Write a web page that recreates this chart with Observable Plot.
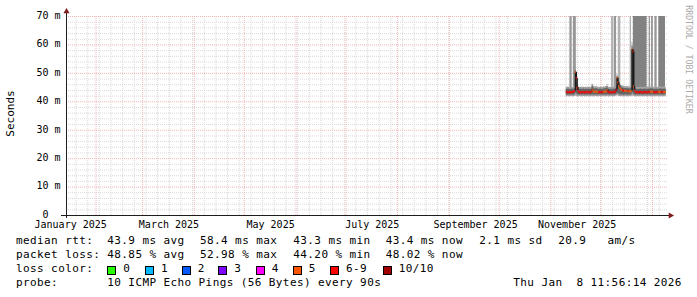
<!DOCTYPE html>
<html><head><meta charset="utf-8">
<script src="https://cdn.jsdelivr.net/npm/d3@7"></script>
<script src="https://cdn.jsdelivr.net/npm/@observablehq/plot@0.6"></script>
<style>
html,body{margin:0;padding:0;background:#fff;width:697px;height:297px;overflow:hidden;position:relative;}
#chart{position:absolute;left:0;top:0;}
.lg{position:absolute;font-family:"DejaVu Sans Mono",monospace;font-size:11px;letter-spacing:0.4px;line-height:14px;white-space:pre;color:#000;}
.box{position:absolute;width:9px;height:9px;box-sizing:border-box;border:1px solid #000;}
</style></head><body>
<div id="chart"></div>
<div id="legend"></div>
<script>
// ---------- data ----------
const yTicks = [0, 10, 20, 30, 40, 50, 60, 70];
const xLabelDates = ["2025-01-16T19:00Z","2025-03-16T19:00Z","2025-05-16T19:00Z","2025-07-16T19:00Z","2025-09-16T19:00Z","2025-11-16T19:00Z"];
const binStartISO = "2025-11-10T06:00Z"; // 12-hour RRD steps
const median = [
43.5,43.4,43.3,43.4,43.5,43.4,43.3,43.4,43.5,43.6,
43.8,50.4,48.3,45.0,43.9,
43.5,43.4,43.3,43.3,43.4,43.5,43.4,43.3,43.4,43.4,43.5,43.3,43.4,43.4,43.3,43.5,
44.2,44.0,
43.6,43.5,43.6,43.7,43.5,43.4,43.3,43.4,43.5,43.4,43.3,43.4,43.6,43.5,43.6,43.7,
44.1,
43.5,43.4,43.3,43.4,43.4,43.3,43.4,43.5,43.4,43.6,
44.2,48.4,46.8,45.6,45.0,44.6,44.3,
44.1,44.0,43.9,43.9,43.8,43.8,43.7,43.8,43.7,43.7,43.6,43.8,
58.4,57.6,45.4,44.0,
43.5,43.4,43.3,43.4,43.3,43.4,43.5,43.4,43.3,43.3,43.4,43.5,43.4,43.3,43.4,43.4,43.5,43.4,
43.6,43.5,43.6,43.5,43.4,43.3,43.4,43.5,43.4,43.3,43.4,43.5,43.6,43.5,43.4,43.5,43.4,43.5,43.4];
const lostPings = [
6,6,6,6,6,6,6,6,6,6,6,
5,
6,6,6,6,6,6,6,6,6,6,6,6,6,6,6,6,6,6,6,
5,5,
5,5,5,5,5,5,
6,6,6,6,6,6,
5,5,5,5,5,
6,6,6,6,6,6,6,6,6,6,6,
5,5,5,5,5,5,5,6,6,5,5,5,5,6,5,5,5,5,
5,6,5,
6,6,6,6,6,6,6,6,6,6,6,6,6,6,6,6,6,6,6,
5,5,5,5,
6,6,6,6,6,6,
5,5,5,
6,6,6,
5,5,5];
const smokeMin = [
41.8,41.7,41.9,41.8,41.7,41.8,41.9,41.8,41.7,41.8,
41.9,42.0,41.9,41.8,41.7,41.8,41.9,41.8,41.7,41.8,
41.8,41.9,41.7,41.8,41.8,41.7,41.9,41.8,41.8,41.7,
41.8,41.9,41.8,41.7,41.8,41.9,41.8,41.7,41.8,41.8,
41.9,41.8,41.7,41.8,41.9,41.8,41.8,41.7,41.8,41.9,
41.8,41.7,41.8,41.8,41.9,41.8,41.7,41.8,41.8,41.9,
42.0,42.1,42.0,41.9,41.9,41.8,41.8,41.9,41.8,41.7,
41.8,41.9,41.8,41.8,41.7,41.8,41.9,41.8,41.8,42.0,
42.0,41.9,41.8,41.7,41.8,41.9,41.8,41.7,41.8,41.8,
41.9,41.8,41.7,41.8,41.8,41.9,41.8,41.7,41.8,41.9,
41.8,41.8,41.7,41.8,41.9,41.8,41.7,41.8,41.8,41.9,
41.8,41.7,41.8,41.9,41.8,41.8,41.7,41.8,41.9,41.8];
const smokeLow = [
42.4,42.3,42.5,42.4,42.3,42.4,42.5,42.4,42.3,42.4,
42.5,43.0,42.8,42.6,42.4,42.3,42.4,42.5,42.4,42.3,
42.4,42.5,42.3,42.4,42.4,42.3,42.5,42.4,42.4,42.3,
42.4,42.5,42.4,42.3,42.4,42.5,42.4,42.3,42.4,42.4,
42.5,42.4,42.3,42.4,42.5,42.4,42.4,42.3,42.4,42.5,
42.4,42.3,42.4,42.4,42.5,42.4,42.3,42.4,42.4,42.5,
42.6,43.0,42.8,42.6,42.5,42.4,42.4,42.5,42.4,42.3,
42.4,42.5,42.4,42.4,42.3,42.4,42.5,42.4,42.4,43.2,
43.0,42.6,42.4,42.3,42.4,42.5,42.4,42.3,42.4,42.4,
42.5,42.4,42.3,42.4,42.4,42.5,42.4,42.3,42.4,42.5,
42.4,42.4,42.3,42.4,42.5,42.4,42.3,42.4,42.4,42.5,
42.4,42.3,42.4,42.5,42.4,42.4,42.3,42.4,42.5,42.4];
const smokeHigh = [
44.4,44.3,44.5,44.4,44.3,44.4,44.5,44.4,44.3,44.5,
44.7,51.0,49.0,46.0,44.8,44.4,44.3,44.4,44.5,44.3,
44.4,44.5,44.3,44.4,44.4,44.3,44.5,44.4,44.4,44.3,
44.5,45.6,45.2,44.6,44.5,44.6,44.7,44.5,44.4,44.3,
44.4,44.5,44.4,44.3,44.4,44.6,44.5,44.6,44.7,45.4,
44.5,44.4,44.3,44.4,44.4,44.3,44.4,44.5,44.4,44.6,
45.2,49.0,47.4,46.3,45.7,45.3,45.0,44.9,44.8,44.8,
44.7,44.7,44.6,44.7,44.6,44.6,44.5,44.7,44.6,59.6,
58.6,46.3,44.9,44.5,44.4,44.3,44.4,44.3,44.4,44.5,
44.4,44.3,44.3,44.4,44.5,44.4,44.3,44.4,44.4,44.5,
44.4,44.6,44.5,44.6,44.5,44.4,44.3,44.4,44.5,44.4,
44.3,44.4,44.5,44.6,44.5,44.4,44.5,44.4,44.5,44.4];
const smokeMax = [
45.1,45.0,45.2,45.1,45.0,45.1,45.2,45.1,45.0,45.2,
45.4,51.6,49.8,46.8,45.5,45.1,45.0,45.1,45.2,45.0,
45.1,45.2,45.0,45.1,45.1,45.0,45.2,45.1,45.1,45.0,
45.2,46.3,46.0,45.3,45.2,45.3,45.4,45.2,45.1,45.0,
45.1,45.2,45.1,45.0,45.1,45.3,45.2,45.3,45.4,46.2,
45.2,45.1,45.0,45.1,45.1,45.0,45.1,45.2,45.1,45.3,
45.9,49.6,48.0,47.0,46.4,46.0,45.7,45.6,45.5,45.5,
45.4,45.4,45.3,45.4,45.3,45.3,45.2,45.4,45.3,61.0,
59.4,47.0,45.6,45.2,45.1,45.0,45.1,45.0,45.1,45.2,
45.1,45.0,45.0,45.1,45.2,45.1,45.0,45.1,45.1,45.2,
45.1,45.3,45.2,45.3,45.2,45.1,45.0,45.1,45.2,45.1,
45.0,45.1,45.2,45.3,45.2,45.1,45.2,45.1,45.2,45.1];
// periods where some pings came back with very high RTT (smoke reaching the top)
const tallStart = ["2025-11-12T10:00Z","2025-11-14T12:00Z","2025-12-07T10:00Z","2025-12-09T02:00Z","2025-12-11T10:00Z","2025-12-18T14:00Z","2025-12-20T12:00Z","2025-12-30T00:00Z","2025-12-31T10:00Z","2026-01-02T10:00Z","2026-01-04T19:00Z"];
const tallEnd   = ["2025-11-13T19:00Z","2025-11-16T07:00Z","2025-12-08T19:00Z","2025-12-10T10:00Z","2025-12-13T00:00Z","2025-12-19T10:00Z","2025-12-28T19:00Z","2025-12-30T19:00Z","2026-01-01T12:00Z","2026-01-03T19:00Z","2026-01-08T19:00Z"];
const tallFrom  = [44.5,44.5,44.5,44.5,44.5,44.5,44.5,44.5,44.5,44.5,44.5];
const tallTo    = [70,70,70,70,70,70,70,70,70,70,70];
const tallPings = [2,2,1,2,1,1,3,2,2,2,3];

const lossLabels = ["0","1","2","3","4","5","6-9","10/10"];
const lossColors = ["#26ff00","#00b8ff","#0059ff","#7e00ff","#ff00ff","#ff5500","#ff0000","#a00000"];
const rttNames = ["avg","max","min","now","sd"];
const rttValues = [43.9, 58.4, 43.3, 43.4, 2.1];
const amPerSec = 20.9;
const lossNames = ["avg","max","min","now"];
const lossValues = [48.85, 52.98, 44.20, 48.02];
const probeText = "10 ICMP Echo Pings (56 Bytes) every 90s";
const stampText = "Thu Jan  8 11:56:14 2026";

// ---------- derived tables ----------
const xDomain = [new Date("2025-01-14T07:12Z"), new Date("2026-01-10T00:00Z")];
const binStart = new Date(binStartISO);
const rows = median.map((m, j) => ({
  t0: d3.utcHour.offset(binStart, 12 * j),
  t1: d3.utcHour.offset(binStart, 12 * (j + 1)),
  median: m, lost: lostPings[j],
  min: smokeMin[j], low: smokeLow[j], high: smokeHigh[j], max: smokeMax[j]
}));
const areaRows = rows.concat([{...rows[rows.length - 1], t0: rows[rows.length - 1].t1}]);
const connectors = [];
for (let j = 1; j < rows.length; j++) {
  if (Math.abs(rows[j].median - rows[j - 1].median) > 0.6)
    connectors.push({t: rows[j].t0, a: rows[j - 1].median, b: rows[j].median});
}
const tall = tallStart.map((s, i) => ({t0: new Date(s), t1: new Date(tallEnd[i]), y1: tallFrom[i], y2: tallTo[i], n: tallPings[i]}));
const tallShade = n => n >= 3 ? "#828282" : n === 2 ? "#989898" : "#b3b3b3";
const lossColor = n => lossColors[n <= 5 ? n : n < 10 ? 6 : 7];

const minorY = d3.range(2, 70, 2).filter(v => v % 10 !== 0);
const majorY = yTicks.filter(v => v > 0);
const minorX = d3.utcMonday.range(xDomain[0], xDomain[1]);
const majorX = d3.utcMonth.range(xDomain[0], xDomain[1]);
const gridMinor = "#d8d8d8", gridMajor = "#efb3b3";

const chart = Plot.plot({
  width: 697, height: 232,
  marginLeft: 66, marginRight: 30, marginTop: 16, marginBottom: 17,
  x: {type: "utc", domain: xDomain},
  y: {domain: [0, 70]},
  color: {type: "identity"},
  style: {fontFamily: "'DejaVu Sans Mono', monospace", fontSize: "10px", background: "transparent", color: "#000", overflow: "visible"},
  marks: [
    Plot.ruleY(minorY, {stroke: gridMinor, strokeDasharray: "1,1"}),
    Plot.ruleX(minorX, {stroke: gridMinor, strokeDasharray: "1,1"}),
    Plot.ruleY(majorY, {stroke: gridMajor, strokeDasharray: "1,1"}),
    Plot.ruleX(majorX, {stroke: gridMajor, strokeDasharray: "1,1"}),
    Plot.rect(tall, {x1: "t0", x2: "t1", y1: "y1", y2: "y2", fill: d => tallShade(d.n)}),
    Plot.areaY(areaRows, {x: "t0", y1: "min", y2: "max", curve: "step-after", fill: "#a2a2a2"}),
    Plot.areaY(areaRows, {x: "t0", y1: "low", y2: "high", curve: "step-after", fill: "#656565"}),
    Plot.ruleX(connectors, {x: "t", y1: "a", y2: "b", stroke: "#1a1a1a", strokeWidth: 1.5}),
    Plot.ruleY(rows, {x1: "t0", x2: "t1", y: "median", stroke: d => lossColor(d.lost), strokeWidth: 2.2}),
    Plot.ruleY([0], {stroke: "#1e1e1e", insetLeft: -5, insetRight: -2}),
    Plot.ruleX([xDomain[0]], {stroke: "#1e1e1e", insetTop: -5, insetBottom: -3}),
    Plot.dot([{x: xDomain[0], y: 70}], {x: "x", y: "y", dy: -5, symbol: "triangle", r: 2.3, fill: "#801f1f", stroke: "none"}),
    Plot.dot([{x: xDomain[1], y: 0}], {x: "x", y: "y", dx: 3, symbol: "triangle", rotate: 90, r: 2.3, fill: "#801f1f", stroke: "none"}),
    Plot.axisY({ticks: yTicks, tickSize: 0, tickPadding: 6, dy: -0.8, label: null, fontSize: 10,
      tickFormat: d => d === 0 ? "0\u00a0\u00a0" : d + "\u00a0m"}),
    Plot.axisX({ticks: xLabelDates.map(s => new Date(s)), tickSize: 0, tickPadding: 5.5, label: null, fontSize: 10,
      tickFormat: d3.utcFormat("%B %Y")}),
    Plot.text(["Seconds"], {frameAnchor: "left", text: d => d, rotate: -90, dx: -55.7, dy: -2.5, fontSize: 11,
      textAnchor: "middle", lineAnchor: "middle", fill: "#000"}),
    Plot.text(["RRDTOOL / TOBI OETIKER"], {frameAnchor: "top-right", text: d => d, rotate: 90, dx: 21, dy: 43, fontSize: 8.2,
      textAnchor: "middle", lineAnchor: "middle", fill: "#aaaaaa"})
  ]
});
document.getElementById("chart").appendChild(chart);

// ---------- legend (below the svg) ----------
const lg = document.getElementById("legend");
function put(text, left, top) {
  const s = document.createElement("div");
  s.className = "lg"; s.textContent = text;
  s.style.left = left + "px"; s.style.top = top + "px";
  lg.appendChild(s);
}
const rowTop = [234.2, 248.2, 262.2, 276.2];
const colX = [107.3, 200, 293.3, 385.7, 479.3];
put("median rtt:", 16, rowTop[0]);
rttValues.forEach((v, i) => put(`${v.toFixed(1)} ms ${rttNames[i]}`, colX[i], rowTop[0]));
put(`${amPerSec.toFixed(1)}   am/s`, 558.3, rowTop[0]);
put("packet loss:", 16, rowTop[1]);
lossValues.forEach((v, i) => put(`${v.toFixed(2)} % ${lossNames[i]}`, colX[i], rowTop[1]));
put("loss color:", 16, rowTop[2]);
const boxX = [107.3, 145, 181.7, 218.3, 255.7, 292.7, 330, 382.7];
lossLabels.forEach((lab, i) => {
  const b = document.createElement("div");
  b.className = "box"; b.style.background = lossColors[i];
  b.style.left = boxX[i] + "px"; b.style.top = (rowTop[2] + 3.5) + "px";
  lg.appendChild(b);
  put(lab, boxX[i] + 16, rowTop[2]);
});
put("probe:", 16, rowTop[3]);
put(probeText, 107.3, rowTop[3]);
put(stampText, 513.3, rowTop[3]);
</script></body></html>
